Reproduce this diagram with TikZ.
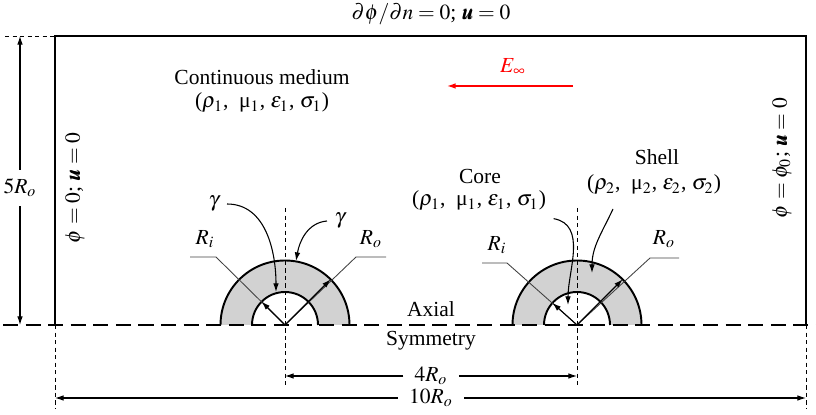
\documentclass[tikz,border=0pt]{standalone}
\usepackage{amsmath}
\usepackage{mathptmx}
\usepackage{bm}
\usepackage{fontspec}
\setmainfont{Liberation Serif}
\usetikzlibrary{arrows.meta,calc}

\begin{document}
\begin{tikzpicture}[x=0.465pt,y=0.465pt,line width=0.5pt,>={Latex[length=4pt,width=2.6pt]},
  thinaxis/.style={dash pattern=on 2pt off 1.5pt,line width=0.4pt},
  symaxis/.style={dash pattern=on 7pt off 3.5pt,line width=1.1pt},
  leader/.style={line width=0.4pt,black!75}]
\useasboundingbox (0,0) rectangle (816,415);
% domain box (bottom side is the symmetry axis)
\coordinate (BL) at (55,90);
\coordinate (BR) at (806,90);
\coordinate (TL) at (55,379);
\coordinate (TR) at (806,379);
\draw[line width=1pt] (BL) -- (TL) -- (TR) -- (BR);
% core-shell particles
\foreach \cx/\nm in {285/L,577/R}{
  \coordinate (C\nm) at (\cx,90);
  \fill[gray!35] (\cx+64.5,90) arc[start angle=0,end angle=180,radius=64.5]
    -- (\cx-33,90) arc[start angle=180,end angle=0,radius=33] -- cycle;
  \draw[line width=0.9pt] (\cx+64.5,90) arc[start angle=0,end angle=180,radius=64.5];
  \draw[line width=0.9pt] (\cx+33,90) arc[start angle=0,end angle=180,radius=33];
  \coordinate (C\nm top) at (\cx,207);
  \coordinate (C\nm bot) at (\cx,28);
  \draw[thinaxis] (C\nm top) -- (C\nm bot);
}
% axial symmetry line
\coordinate (AxL) at (3,90);
\coordinate (AxR) at (816,90);
\draw[symaxis] (AxL) -- (AxR);
\node (ax1) at (431,106) {Axial};
\node (ax2) at (431,74) {Symmetry};
% boundary conditions
\node (bctop) at (431,401) {$\partial\phi/\partial n=0$; $\bm{u}=0$};
\node[rotate=90] (bcleft) at (75,227) {$\phi=0$; $\bm{u}=0$};
\node[rotate=90] (bcright) at (782,257) {$\phi=\phi_0$; $\bm{u}=0$};
% medium
\node (med) at (262,338) {Continuous medium};
\node (medp) at (262,312) {($\rho_1$,\ \ μ$_1$, $\varepsilon_1$, $\sigma_1$)};
% applied field
\coordinate (Es) at (573,329);
\coordinate (Ee) at (447,329);
\draw[->,red,line width=0.6pt] (Es) -- (Ee);
\node[red] (Einf) at (513,348) {$E_\infty$};
% dimensions
\coordinate (h5t) at (20,379);
\coordinate (h5b) at (20,90);
\coordinate (h5d) at (5,379);
\draw[thinaxis] (h5d) -- (TL);
\node[inner sep=4pt] (h5) at (20,227) {$5R_o$};
\draw[->] (h5) -- (h5t);
\draw[->] (h5) -- (h5b);
\coordinate (wL) at (55,7);
\coordinate (wR) at (806,7);
\draw[thinaxis] (BL) -- (wL);
\draw[thinaxis] (BR) -- (wR);
\node[inner sep=5pt] (d4) at (431,39) {$4R_o$};
\draw[->] (d4) -- (285,39);
\draw[->] (d4) -- (577,39);
\node[inner sep=5pt] (d10) at (431,17) {$10R_o$};
\draw[->] (d10) -- (55,17);
\draw[->] (d10) -- (806,17);
% left particle: interfaces and radii
\node (g1) at (214,211) {$\gamma$};
\coordinate (t1) at (276,123);
\draw[->] (g1.east) to[out=0,in=90] (t1);
\node (g2) at (340,194) {$\gamma$};
\coordinate (t2) at (296,154);
\draw[->] (g2.west) to[out=185,in=80] (t2);
\node (riL) at (205,176) {$R_i$};
\coordinate (riLa) at (190,158);
\coordinate (riLb) at (216,158);
\draw[leader] (riLa) -- (riLb) -- (CL);
\draw[->] (CL) -- ++(135:33);
\node (roL) at (371,176) {$R_o$};
\coordinate (roLa) at (386,158);
\coordinate (roLb) at (356,158);
\draw[leader] (roLa) -- (roLb) -- (CL);
\draw[->] (CL) -- ++(45:64.5);
% right particle: core and shell
\node (core) at (480,239) {Core};
\node (corep) at (479,214) {($\rho_1$,\ \ μ$_1$, $\varepsilon_1$, $\sigma_1$)};
\coordinate (t3) at (568,110);
\draw[->] (corep.south east) to[out=-10,in=90] (t3);
\node (shell) at (657,258) {Shell};
\node (shellp) at (654,230) {($\rho_2$,\ \ μ$_2$, $\varepsilon_2$, $\sigma_2$)};
\coordinate (s4) at (613,206);
\coordinate (t4) at (592,142);
\draw[->] (s4) to[out=-115,in=90] (t4);
\node (riR) at (497,170) {$R_i$};
\coordinate (riRa) at (482,152);
\coordinate (riRb) at (507,152);
\draw[leader] (riRa) -- (riRb) -- (CR);
\draw[->] (CR) -- ++(138:33);
\node (roR) at (664,176) {$R_o$};
\coordinate (roRa) at (679,157);
\coordinate (roRb) at (650,157);
\draw[leader] (roRa) -- (roRb) -- (CR);
\draw[->] (CR) -- ++(45:64.5);
\end{tikzpicture}
\end{document}
